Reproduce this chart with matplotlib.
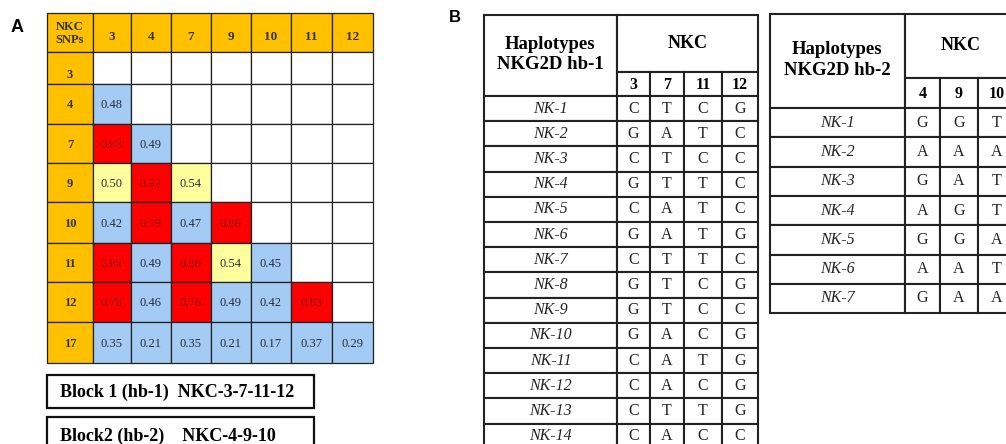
import matplotlib
matplotlib.use("Agg")
import matplotlib.pyplot as plt
from matplotlib.patches import Rectangle

# ---- data: panel A, pairwise LD between NKC SNPs (lower triangle) ----
snp_cols = ["3", "4", "7", "9", "10", "11", "12"]
snp_rows = ["3", "4", "7", "9", "10", "11", "12", "17"]
ld_values = [
    [],
    [0.48],
    [0.83, 0.49],
    [0.50, 0.92, 0.54],
    [0.42, 0.79, 0.47, 0.86],
    [0.82, 0.49, 0.86, 0.54, 0.45],
    [0.78, 0.46, 0.76, 0.49, 0.42, 0.83],
    [0.35, 0.21, 0.35, 0.21, 0.17, 0.37, 0.29],
]
block_labels = ["Block 1 (hb-1)  NKC-3-7-11-12", "Block2 (hb-2)    NKC-4-9-10"]

# ---- data: panel B, haplotypes ----
hb1_snps = ["3", "7", "11", "12"]
hb1_names = ["NK-%d" % i for i in range(1, 15)]
hb1_alleles = ["CTCG", "GATC", "CTCC", "GTTC", "CATC", "GATG", "CTTC",
               "GTCG", "GTCC", "GACG", "CATG", "CACG", "CTTG", "CACC"]

hb2_snps = ["4", "9", "10"]
hb2_names = ["NK-%d" % i for i in range(1, 8)]
hb2_alleles = ["GGT", "AAA", "GAT", "AGT", "GGA", "AAT", "GAA"]

ORANGE = "#FFC000"
RED = "#FF0000"
BLUE = "#A3CBF3"
YELLOW = "#FFFF9E"
SERIF = "Liberation Serif"


def ld_color(v):
    if v >= 0.75:
        return RED
    if v >= 0.5:
        return YELLOW
    return BLUE


fig = plt.figure(figsize=(10.06, 4.44), dpi=100)
ax = fig.add_axes([0, 0, 1, 1])
ax.set_xlim(0, 1006)
ax.set_ylim(444, 0)
ax.axis("off")


def box(x0, y0, x1, y1, fc="white", lw=0.9, ec="#222222"):
    ax.add_patch(Rectangle((x0, y0), x1 - x0, y1 - y0, facecolor=fc,
                           edgecolor=ec, linewidth=lw))


# ================= panel A =================
ax.text(11, 27, "A", fontsize=13, fontweight="bold", family="Liberation Sans",
        va="center", ha="left")

col_x = [47, 93, 131, 171, 211, 251, 291, 332, 373]
row_y = [13, 52, 84, 124, 163, 202, 243, 282, 322, 363]

# header row
box(col_x[0], row_y[0], col_x[1], row_y[1], fc=ORANGE)
ax.text((col_x[0] + col_x[1]) / 2, (row_y[0] + row_y[1]) / 2 + 1, "NKC\nSNPs",
        ha="center", va="center", fontsize=9, fontweight="bold",
        family=SERIF, color="#333333", linespacing=1.15)
for j, lab in enumerate(snp_cols):
    box(col_x[j + 1], row_y[0], col_x[j + 2], row_y[1], fc=ORANGE)
    ax.text((col_x[j + 1] + col_x[j + 2]) / 2, (row_y[0] + row_y[1]) / 2 + 5,
            lab, ha="center", va="center", fontsize=9.5, fontweight="bold",
            family=SERIF, color="#333333")

# body rows
for i, lab in enumerate(snp_rows):
    y0, y1 = row_y[i + 1], row_y[i + 2]
    box(col_x[0], y0, col_x[1], y1, fc=ORANGE)
    ty = y1 - 9 if i == 0 else (y0 + y1) / 2 + 1
    ax.text((col_x[0] + col_x[1]) / 2, ty, lab, ha="center", va="center",
            fontsize=9, fontweight="bold", family=SERIF, color="#333333")
    for j in range(len(snp_cols)):
        x0, x1 = col_x[j + 1], col_x[j + 2]
        if j < len(ld_values[i]):
            v = ld_values[i][j]
            c = ld_color(v)
            box(x0, y0, x1, y1, fc=c)
            tc = "#8B0000" if c == RED else "#2B2B3B"
            ax.text((x0 + x1) / 2, (y0 + y1) / 2 + 1, "%.2f" % v,
                    ha="center", va="center", fontsize=9, family=SERIF,
                    color=tc)
        else:
            box(x0, y0, x1, y1)

# block boxes
box(47, 375, 314, 408, lw=1.6, ec="#111111")
ax.text(60, 392, block_labels[0], ha="left", va="center", fontsize=13,
        fontweight="bold", family=SERIF)
box(47, 417, 314, 460, lw=1.6, ec="#111111")
ax.text(60, 436, block_labels[1], ha="left", va="center", fontsize=13,
        fontweight="bold", family=SERIF)

# ================= panel B =================
ax.text(449, 18, "B", fontsize=12, fontweight="bold", family="Liberation Sans",
        va="center", ha="left")


def hap_table(x_left, x_cols, y_top, y_sub, y_head, row_h, title, snps,
              names, alleles):
    x_div = x_cols[0]
    # header cells
    box(x_left, y_top, x_div, y_head, lw=1.5)
    ax.text((x_left + x_div) / 2, (y_top + y_head) / 2 - 1, title,
            ha="center", va="center", fontsize=13.5, fontweight="bold",
            family=SERIF, linespacing=1.25)
    box(x_div, y_top, x_cols[-1], y_sub, lw=1.5)
    ax.text((x_div + x_cols[-1]) / 2, (y_top + y_sub) / 2, "NKC",
            ha="center", va="center", fontsize=13, fontweight="bold",
            family=SERIF)
    for j, s in enumerate(snps):
        box(x_cols[j], y_sub, x_cols[j + 1], y_head, lw=1.5)
        ax.text((x_cols[j] + x_cols[j + 1]) / 2, (y_sub + y_head) / 2 + 1, s,
                ha="center", va="center", fontsize=11.5, fontweight="bold",
                family=SERIF)
    for i, (nm, al) in enumerate(zip(names, alleles)):
        y0 = y_head + i * row_h
        y1 = y0 + row_h
        box(x_left, y0, x_div, y1, lw=1.5)
        ax.text((x_left + x_div) / 2, (y0 + y1) / 2, nm, ha="center",
                va="center", fontsize=11.5, style="italic", family=SERIF,
                color="#222222")
        for j, a in enumerate(al):
            box(x_cols[j], y0, x_cols[j + 1], y1, lw=1.5)
            ax.text((x_cols[j] + x_cols[j + 1]) / 2, (y0 + y1) / 2, a,
                    ha="center", va="center", fontsize=11.5, family=SERIF,
                    color="#222222")


hap_table(484, [617, 650, 684, 722, 758], 15, 72, 96, 25.2,
          "Haplotypes\nNKG2D hb-1", hb1_snps, hb1_names, hb1_alleles)
hap_table(770, [905, 940, 978, 1016], 14, 78, 108, 29.3,
          "Haplotypes\nNKG2D hb-2", hb2_snps, hb2_names, hb2_alleles)

fig.savefig("out.png", dpi=100)
